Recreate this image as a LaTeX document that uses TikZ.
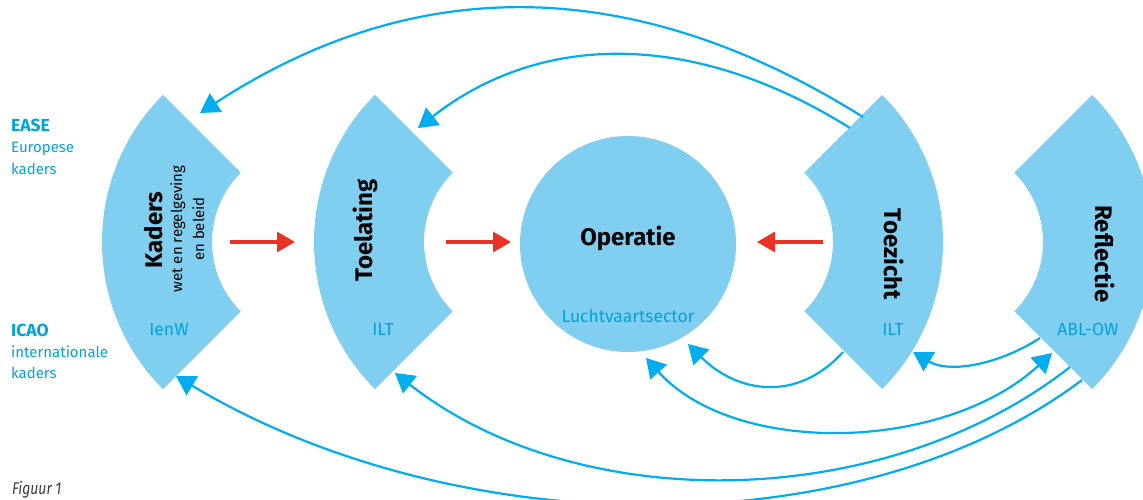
\documentclass[tikz,border=0pt]{standalone}
\usepackage{fontspec}
\setmainfont{Fira Sans}[Ligatures=NoCommon]
\usetikzlibrary{arrows.meta,calc}
\definecolor{secfill}{HTML}{80CEF0}
\definecolor{flowblue}{HTML}{00AEEF}
\definecolor{labelblue}{HTML}{00A3E0}
\definecolor{flowred}{HTML}{EC3226}
\definecolor{capgrey}{HTML}{3C3C3C}
\begin{document}
\begin{tikzpicture}[x=1pt,y=1pt,
  sector/.style={fill=secfill, draw=none},
  loop/.style={draw=flowblue, line width=2.2pt, -{Triangle[length=19pt,width=22pt]}},
  both/.style={draw=flowblue, line width=2.2pt, {Triangle[length=19pt,width=22pt]}-{Triangle[length=19pt,width=22pt]}},
  push/.style={draw=flowred, line width=3.2pt, -{Triangle[length=18pt,width=20pt]}},
  title/.style={font=\fontsize{24}{28}\selectfont\bfseries, inner sep=0pt, anchor=base},
  sub/.style={font=\fontsize{15}{18}\selectfont, inner sep=0pt, anchor=base},
  org/.style={font=\fontsize{17.5}{20}\selectfont, text=labelblue, inner sep=0pt, anchor=base},
  side/.style={font=\fontsize{15}{18}\selectfont, text=labelblue, inner sep=0pt, anchor=base west},
  sidehead/.style={font=\fontsize{17.5}{20}\selectfont\bfseries, text=labelblue, inner sep=0pt, anchor=base west},
]
\useasboundingbox (0,0) rectangle (1143,499);
\clip (0,0) rectangle (1143,499);

% sector centres
\coordinate (K) at (310,257);
\coordinate (T) at (522,257);
\coordinate (Z) at (735,257);
\coordinate (R) at (945,257);

% shapes
\fill[sector] ($(K)+(135:208)$) arc[start angle=135,end angle=225,radius=208] -- ($(K)+(225:98)$) arc[start angle=225,end angle=135,radius=98] -- cycle;
\fill[sector] ($(T)+(135:208)$) arc[start angle=135,end angle=225,radius=208] -- ($(T)+(225:98)$) arc[start angle=225,end angle=135,radius=98] -- cycle;
\fill[sector] ($(Z)+(-45:208)$) arc[start angle=-45,end angle=45,radius=208] -- ($(Z)+(45:98)$) arc[start angle=45,end angle=-45,radius=98] -- cycle;
\fill[sector] ($(R)+(-45:208)$) arc[start angle=-45,end angle=45,radius=208] -- ($(R)+(45:98)$) arc[start angle=45,end angle=-45,radius=98] -- cycle;
\node[circle, fill=secfill, minimum size=216pt, inner sep=0pt] (opcircle) at (628,255) {};

% titles
\node[title, rotate=90] (kadersT) at (162,269) {Kaders};
\node[sub, rotate=90] (kadersS1) at (182,270) {wet en regelgeving};
\node[sub, rotate=90] (kadersS2) at (204,270) {en beleid};
\node[title, rotate=90] (toelT) at (372,268.5) {Toelating};
\node[title] (opT) at (628,253.3) {Operatie};
\node[title, rotate=-90] (tzT) at (884,244.5) {Toezicht};
\node[title, rotate=-90] (rfT) at (1095,245) {Reflectie};

% organisations
\node[org] (ienw) at (169,164) {IenW};
\node[org] (ilt1) at (383,164) {ILT};
\node[org] (ilt2) at (893,164) {ILT};
\node[org] (ablow) at (1088,164) {ABL-OW};
\node[org] (sector) at (628,176.3) {Luchtvaartsector};

% side labels
\node[sidehead] (ease) at (11,367) {EASE};
\node[side] (ease2) at (11,346) {Europese};
\node[side] (ease3) at (11,325) {kaders};
\node[sidehead] (icao) at (11,163) {ICAO};
\node[side] (icao2) at (11,142) {internationale};
\node[side] (icao3) at (11,121) {kaders};

\node[font=\fontsize{17}{20}\selectfont\itshape, text=capgrey, inner sep=0pt, anchor=base west] (fig) at (12,5) {\scalebox{0.82}[1]{Figuur 1}};

% connector end points
\coordinate (tzA) at (863,382);
\coordinate (kdTop) at (200,386);
\coordinate (tzB) at (850,371);
\coordinate (tlTop) at (418,371);
\coordinate (tzC) at (843,147);
\coordinate (opA) at (688,155);
\coordinate (rfA) at (1040,161);
\coordinate (tzD) at (913,147);
\coordinate (opB) at (646,141);
\coordinate (rfB) at (1052,146);
\coordinate (rfC) at (1070,132);
\coordinate (tlBot) at (395,126);
\coordinate (rfD) at (1082,119);
\coordinate (kdBot) at (176,123);

\draw[loop] (tzA) .. controls (636,524) and (418,528) .. (kdTop);
\draw[loop] (tzB) .. controls (695,468) and (542,468) .. (tlTop);
\draw[loop] (tzC) .. controls (798,97) and (738,105) .. (opA);
\draw[loop] (rfA) .. controls (1000,135) and (950,125) .. (tzD);
\draw[both] (opB) .. controls (735,42) and (945,47) .. (rfB);
\draw[loop] (rfC) .. controls (885,-13) and (580,-19) .. (tlBot);
\draw[loop] (rfD) .. controls (859,-49) and (456,-45) .. (kdBot);

% red arrows
\coordinate (r1s) at (230,257);
\coordinate (r1e) at (295,257);
\coordinate (r2s) at (446,257);
\coordinate (r2e) at (511,257);
\coordinate (r3s) at (823,257);
\coordinate (r3e) at (757,257);
\draw[push] (r1s) -- (r1e);
\draw[push] (r2s) -- (r2e);
\draw[push] (r3s) -- (r3e);
\end{tikzpicture}
\end{document}
